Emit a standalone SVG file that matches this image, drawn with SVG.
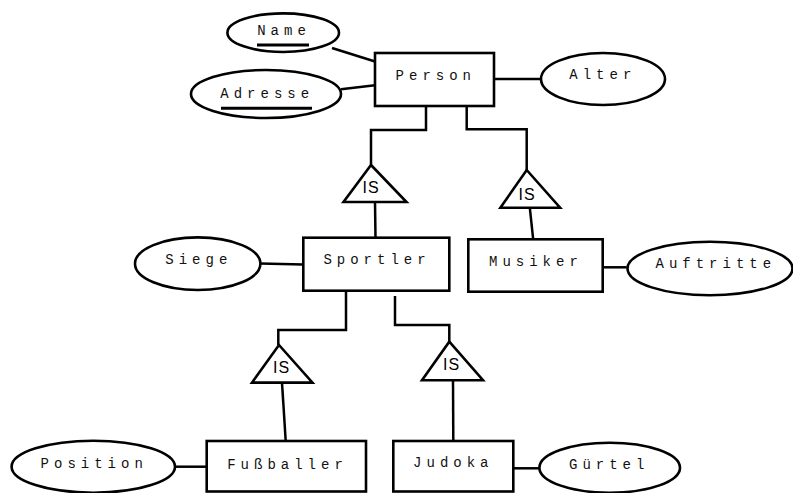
<svg xmlns="http://www.w3.org/2000/svg" width="793" height="493" viewBox="0 0 793 493">
<style>
.box{fill:#fff;stroke:#000;stroke-width:2.6}
.ell{fill:#fff;stroke:#000;stroke-width:2.6}
.isa{fill:#fff;stroke:#000;stroke-width:2.6;stroke-linejoin:miter}
.ln{fill:none;stroke:#000;stroke-width:2.5}
.t{font-family:"Liberation Mono","DejaVu Sans Mono",monospace;font-size:14px;letter-spacing:5px;text-anchor:middle;fill:#111}
.is{font-family:"Liberation Sans",Arial,sans-serif;font-size:16px;letter-spacing:1px;text-anchor:middle;fill:#000}
.ul{stroke:#000;stroke-width:3}
</style>
<rect width="793" height="493" fill="#fff"/>
<g id="connectors">
<line class="ln" x1="332" y1="48" x2="375" y2="61.5"/>
<line class="ln" x1="341" y1="89.3" x2="375" y2="85.3"/>
<line class="ln" x1="494" y1="79" x2="541" y2="79"/>
<polyline class="ln" points="426,106 426,130 371,130 371,165"/>
<polyline class="ln" points="466.7,106 466.7,129.3 526.7,129.3 526.7,170"/>
<line class="ln" x1="375" y1="202" x2="375.5" y2="237.5"/>
<line class="ln" x1="529.8" y1="207.7" x2="533.2" y2="239.3"/>
<line class="ln" x1="260.5" y1="263.5" x2="303" y2="264.5"/>
<line class="ln" x1="602.7" y1="267.3" x2="626.7" y2="267.3"/>
<polyline class="ln" points="346,291 346,330 278.3,330 278.3,345"/>
<polyline class="ln" points="395,296 395,325 449.3,325 449.3,341.7"/>
<line class="ln" x1="282" y1="382.6" x2="285.7" y2="441"/>
<line class="ln" x1="453" y1="380.2" x2="453.3" y2="441"/>
<line class="ln" x1="175" y1="466.7" x2="206.7" y2="466.7"/>
<line class="ln" x1="513.3" y1="468.3" x2="539.3" y2="468.3"/>
</g>
<g id="person"><rect class="box" x="375" y="53" width="119" height="53"/><text class="t" x="435.8" y="80">Person</text></g>
<g id="name"><ellipse class="ell" cx="283.2" cy="32.7" rx="55.8" ry="19.3"/><text class="t" x="284" y="34.5">Name</text><line class="ul" x1="257" y1="45" x2="309" y2="45"/></g>
<g id="adresse"><ellipse class="ell" cx="266" cy="94" rx="75" ry="24"/><text class="t" x="267.2" y="97.7">Adresse</text><line class="ul" x1="221" y1="108.3" x2="312" y2="108.3"/></g>
<g id="alter"><ellipse class="ell" cx="603" cy="79" rx="62" ry="26"/><text class="t" x="602.8" y="78.5">Alter</text></g>
<g id="is1"><polygon class="isa" points="371,165 406.5,202 343.5,202"/><text class="is" x="371" y="192.5">IS</text></g>
<g id="is2"><polygon class="isa" points="526.7,170 560.1,207.7 500.4,207.7"/><text class="is" x="527" y="199.5">IS</text></g>
<g id="sportler"><rect class="box" x="303.3" y="237.7" width="146" height="53"/><text class="t" x="377" y="264">Sportler</text></g>
<g id="siege"><ellipse class="ell" cx="197.7" cy="263.7" rx="62.7" ry="26.3"/><text class="t" x="198.8" y="264">Siege</text></g>
<g id="musiker"><rect class="box" x="468.3" y="239.3" width="134.4" height="52.4"/><text class="t" x="535.9" y="266">Musiker</text></g>
<g id="auftritte"><ellipse class="ell" cx="710" cy="268.5" rx="82.5" ry="26.7"/><text class="t" x="715.8" y="268.3">Auftritte</text></g>
<g id="is3"><polygon class="isa" points="279,345 312.5,382.6 252,382.6"/><text class="is" x="281.5" y="373">IS</text></g>
<g id="is4"><polygon class="isa" points="449.3,341.7 483,380.2 422,380.2"/><text class="is" x="451.5" y="369.5">IS</text></g>
<g id="fussballer"><rect class="box" x="206.7" y="441" width="159.3" height="50.5"/><text class="t" x="287.5" y="468.5">Fußballer</text></g>
<g id="position"><ellipse class="ell" cx="93.3" cy="466.7" rx="81.7" ry="26"/><text class="t" x="94.2" y="467.7">Position</text></g>
<g id="judoka"><rect class="box" x="393.3" y="441" width="120" height="50.5"/><text class="t" x="453.3" y="466.7">Judoka</text></g>
<g id="guertel"><ellipse class="ell" cx="609.7" cy="467.7" rx="70.3" ry="25"/><text class="t" x="609.2" y="469.3">Gürtel</text></g>
</svg>
